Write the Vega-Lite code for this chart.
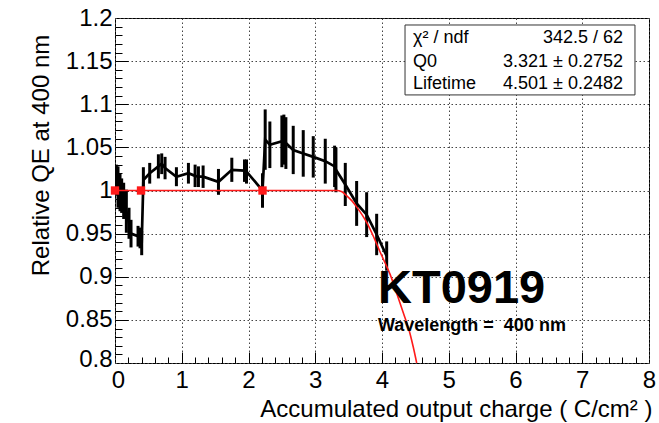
{
  "$schema": "https://vega.github.io/schema/vega-lite/v6.json",
  "width": 534,
  "height": 345,
  "autosize": {"type": "none"},
  "padding": {"left": 115, "top": 18, "right": 10, "bottom": 60},
  "background": "white",
  "config": {
    "view": {"stroke": "black", "strokeWidth": 1},
    "font": "Liberation Sans",
    "axis": {"labelFont": "Liberation Sans", "titleFont": "Liberation Sans", "labelColor": "black", "titleColor": "black", "domain": false}
  },
  "datasets": {
    "qe": [
      {"charge": 0.02, "qe": 1.012, "lo": 0.994, "hi": 1.030},
      {"charge": 0.045, "qe": 1.004, "lo": 0.980, "hi": 1.028},
      {"charge": 0.075, "qe": 0.998, "lo": 0.976, "hi": 1.020},
      {"charge": 0.10, "qe": 0.994, "lo": 0.974, "hi": 1.014},
      {"charge": 0.13, "qe": 0.988, "lo": 0.967, "hi": 1.009},
      {"charge": 0.17, "qe": 0.976, "lo": 0.951, "hi": 1.001},
      {"charge": 0.21, "qe": 0.962, "lo": 0.944, "hi": 0.980},
      {"charge": 0.24, "qe": 0.950, "lo": 0.934, "hi": 0.966},
      {"charge": 0.345, "qe": 0.947, "lo": 0.935, "hi": 0.959},
      {"charge": 0.375, "qe": 0.945, "lo": 0.933, "hi": 0.957},
      {"charge": 0.40, "qe": 0.939, "lo": 0.925, "hi": 0.953},
      {"charge": 0.425, "qe": 1.012, "lo": 0.997, "hi": 1.027},
      {"charge": 0.52, "qe": 1.020, "lo": 1.008, "hi": 1.032},
      {"charge": 0.65, "qe": 1.028, "lo": 1.014, "hi": 1.042},
      {"charge": 0.70, "qe": 1.031, "lo": 1.019, "hi": 1.043},
      {"charge": 0.75, "qe": 1.026, "lo": 1.013, "hi": 1.039},
      {"charge": 0.92, "qe": 1.016, "lo": 1.005, "hi": 1.027},
      {"charge": 1.10, "qe": 1.020, "lo": 1.008, "hi": 1.032},
      {"charge": 1.20, "qe": 1.017, "lo": 1.004, "hi": 1.030},
      {"charge": 1.25, "qe": 1.016, "lo": 1.004, "hi": 1.028},
      {"charge": 1.32, "qe": 1.016, "lo": 1.003, "hi": 1.029},
      {"charge": 1.55, "qe": 1.010, "lo": 0.995, "hi": 1.025},
      {"charge": 1.75, "qe": 1.024, "lo": 1.010, "hi": 1.038},
      {"charge": 1.94, "qe": 1.023, "lo": 1.010, "hi": 1.036},
      {"charge": 1.97, "qe": 1.022, "lo": 1.008, "hi": 1.036},
      {"charge": 2.21, "qe": 1.000, "lo": 0.980, "hi": 1.020},
      {"charge": 2.25, "qe": 1.059, "lo": 1.024, "hi": 1.094},
      {"charge": 2.32, "qe": 1.053, "lo": 1.026, "hi": 1.080},
      {"charge": 2.50, "qe": 1.057, "lo": 1.027, "hi": 1.087},
      {"charge": 2.53, "qe": 1.059, "lo": 1.030, "hi": 1.088},
      {"charge": 2.56, "qe": 1.055, "lo": 1.025, "hi": 1.085},
      {"charge": 2.67, "qe": 1.047, "lo": 1.019, "hi": 1.075},
      {"charge": 2.82, "qe": 1.043, "lo": 1.016, "hi": 1.070},
      {"charge": 2.97, "qe": 1.039, "lo": 1.015, "hi": 1.063},
      {"charge": 3.15, "qe": 1.034, "lo": 1.008, "hi": 1.060},
      {"charge": 3.29, "qe": 1.028, "lo": 1.004, "hi": 1.052},
      {"charge": 3.31, "qe": 1.024, "lo": 0.998, "hi": 1.050},
      {"charge": 3.45, "qe": 1.007, "lo": 0.982, "hi": 1.032},
      {"charge": 3.62, "qe": 0.985, "lo": 0.959, "hi": 1.011},
      {"charge": 3.77, "qe": 0.972, "lo": 0.946, "hi": 0.998},
      {"charge": 3.92, "qe": 0.949, "lo": 0.925, "hi": 0.973},
      {"charge": 4.07, "qe": 0.924, "lo": 0.907, "hi": 0.941}
    ],
    "fit": [
      {"charge": 0.0, "qe": 1.0},
      {"charge": 3.32, "qe": 1.0},
      {"charge": 3.40, "qe": 0.9985},
      {"charge": 3.47, "qe": 0.994},
      {"charge": 3.55, "qe": 0.988},
      {"charge": 3.62, "qe": 0.981},
      {"charge": 3.70, "qe": 0.972},
      {"charge": 3.77, "qe": 0.963},
      {"charge": 3.87, "qe": 0.947},
      {"charge": 3.97, "qe": 0.929},
      {"charge": 4.07, "qe": 0.912},
      {"charge": 4.12, "qe": 0.903},
      {"charge": 4.22, "qe": 0.881},
      {"charge": 4.32, "qe": 0.858},
      {"charge": 4.42, "qe": 0.834},
      {"charge": 4.47, "qe": 0.818},
      {"charge": 4.52, "qe": 0.800}
    ],
    "anchors": [
      {"charge": 0.0, "qe": 1.0},
      {"charge": 0.39, "qe": 1.0},
      {"charge": 2.21, "qe": 1.0}
    ],
    "stats": [
      {"name": "χ² / ndf", "val": "342.5 / 62", "qe": 1.171},
      {"name": "Q0", "val": "3.321 ± 0.2752", "qe": 1.1433},
      {"name": "Lifetime", "val": "4.501 ± 0.2482", "qe": 1.1178}
    ]
  },
  "layer": [
    {
      "data": {"name": "qe"},
      "mark": {"type": "rule", "color": "black", "strokeWidth": 3, "clip": true},
      "encoding": {
        "x": {
          "field": "charge", "type": "quantitative",
          "scale": {"domain": [0, 8], "nice": false, "zero": false},
          "axis": {
            "orient": "bottom",
            "values": [0, 1, 2, 3, 4, 5, 6, 7, 8],
            "ticks": false,
            "grid": true, "gridColor": "#444", "gridDash": [1.5, 2.5], "gridWidth": 1,
            "labelFontSize": 24, "labelPadding": 5, "labelFlush": false,
            "labelOffset": {"condition": {"test": "datum.value == 0", "value": 3}, "value": 0},
            "title": "Accumulated output charge ( C/cm² )",
            "titleFontSize": 24, "titleFontWeight": "normal",
            "titleX": 537, "titleY": 53, "titleAlign": "right", "titleBaseline": "alphabetic"
          }
        },
        "y": {
          "field": "lo", "type": "quantitative",
          "scale": {"domain": [0.8, 1.2], "nice": false, "zero": false},
          "axis": {
            "orient": "left",
            "values": [0.8, 0.85, 0.9, 0.95, 1, 1.05, 1.1, 1.15, 1.2],
            "format": "~g",
            "ticks": false,
            "grid": true, "gridColor": "#444", "gridDash": [1.5, 2.5], "gridWidth": 1,
            "labelFontSize": 24, "labelPadding": 3, "labelFlush": false,
            "labelOffset": {"condition": {"test": "datum.value == 0.8", "value": -4}, "value": 0},
            "title": "Relative QE at 400 nm",
            "titleFontSize": 24, "titleFontWeight": "normal",
            "titleAngle": -90, "titleX": -74, "titleY": 137,
            "titleAlign": "center", "titleBaseline": "middle"
          }
        },
        "y2": {"field": "hi"}
      }
    },
    {
      "data": {"name": "qe"},
      "mark": {"type": "line", "color": "black", "strokeWidth": 2.7, "clip": true},
      "encoding": {
        "x": {"field": "charge", "type": "quantitative", "axis": null},
        "y": {"field": "qe", "type": "quantitative", "axis": null}
      }
    },
    {
      "data": {"name": "fit"},
      "mark": {"type": "line", "color": "#ff1a1a", "strokeWidth": 1.6, "clip": true, "interpolate": "monotone"},
      "encoding": {
        "x": {"field": "charge", "type": "quantitative", "axis": null},
        "y": {"field": "qe", "type": "quantitative", "axis": null}
      }
    },
    {
      "data": {"name": "anchors"},
      "mark": {"type": "point", "shape": "square", "filled": true, "color": "#ff1a1a", "size": 70, "opacity": 1},
      "encoding": {
        "x": {"field": "charge", "type": "quantitative", "axis": null},
        "y": {"field": "qe", "type": "quantitative", "axis": null}
      }
    },
    {
      "data": {"values": [{}]},
      "mark": {"type": "rect", "fill": "white", "stroke": "#333", "strokeWidth": 1},
      "encoding": {
        "x": {"datum": 4.345, "type": "quantitative", "axis": null},
        "x2": {"datum": 7.79},
        "y": {"datum": 1.1108, "type": "quantitative", "axis": null},
        "y2": {"datum": 1.1919}
      }
    },
    {
      "data": {"name": "stats"},
      "mark": {"type": "text", "align": "left", "baseline": "alphabetic", "fontSize": 18, "color": "black"},
      "encoding": {
        "x": {"datum": 4.464, "type": "quantitative", "axis": null},
        "y": {"field": "qe", "type": "quantitative", "axis": null},
        "text": {"field": "name"}
      }
    },
    {
      "data": {"name": "stats"},
      "mark": {"type": "text", "align": "right", "baseline": "alphabetic", "fontSize": 18, "color": "black"},
      "encoding": {
        "x": {"datum": 7.61, "type": "quantitative", "axis": null},
        "y": {"field": "qe", "type": "quantitative", "axis": null},
        "text": {"field": "val"}
      }
    },
    {
      "data": {"values": [{"label": "KT0919", "charge": 3.94, "qe": 0.870}]},
      "mark": {"type": "text", "align": "left", "baseline": "alphabetic", "fontSize": 47, "fontWeight": "bold", "color": "black"},
      "encoding": {
        "x": {"field": "charge", "type": "quantitative", "axis": null},
        "y": {"field": "qe", "type": "quantitative", "axis": null},
        "text": {"field": "label"}
      }
    },
    {
      "data": {"values": [{"label": "Wavelength = \u00a0400 nm", "charge": 3.94, "qe": 0.8367}]},
      "mark": {"type": "text", "align": "left", "baseline": "alphabetic", "fontSize": 18, "fontWeight": "bold", "color": "black"},
      "encoding": {
        "x": {"field": "charge", "type": "quantitative", "axis": null},
        "y": {"field": "qe", "type": "quantitative", "axis": null},
        "text": {"field": "label"}
      }
    },
    {
      "data": {"name": "anchors"},
      "mark": {"type": "point", "opacity": 0},
      "encoding": {
        "x": {
          "field": "charge", "type": "quantitative",
          "axis": {"orient": "bottom", "values": [1, 2, 3, 4, 5, 6, 7], "tickSize": -11, "tickColor": "black", "labels": false, "grid": false, "title": null}
        },
        "y": {
          "field": "qe", "type": "quantitative",
          "axis": {"orient": "left", "values": [0.85, 0.9, 0.95, 1, 1.05, 1.1, 1.15], "tickSize": -13, "tickColor": "black", "labels": false, "grid": false, "title": null}
        }
      }
    },
    {
      "data": {"name": "anchors"},
      "mark": {"type": "point", "opacity": 0},
      "encoding": {
        "x": {
          "field": "charge", "type": "quantitative",
          "axis": {"orient": "bottom", "values": [0.2, 0.4, 0.6, 0.8, 1.2, 1.4, 1.6, 1.8, 2.2, 2.4, 2.6, 2.8, 3.2, 3.4, 3.6, 3.8, 4.2, 4.4, 4.6, 4.8, 5.2, 5.4, 5.6, 5.8, 6.2, 6.4, 6.6, 6.8, 7.2, 7.4, 7.6, 7.8], "tickSize": -6, "tickColor": "black", "labels": false, "grid": false, "title": null}
        },
        "y": {
          "field": "qe", "type": "quantitative",
          "axis": {"orient": "left", "values": [0.81, 0.82, 0.83, 0.84, 0.86, 0.87, 0.88, 0.89, 0.91, 0.92, 0.93, 0.94, 0.96, 0.97, 0.98, 0.99, 1.01, 1.02, 1.03, 1.04, 1.06, 1.07, 1.08, 1.09, 1.11, 1.12, 1.13, 1.14, 1.16, 1.17, 1.18, 1.19], "tickSize": -7, "tickColor": "black", "labels": false, "grid": false, "title": null}
        }
      }
    }
  ],
  "resolve": {"axis": {"x": "independent", "y": "independent"}}
}
